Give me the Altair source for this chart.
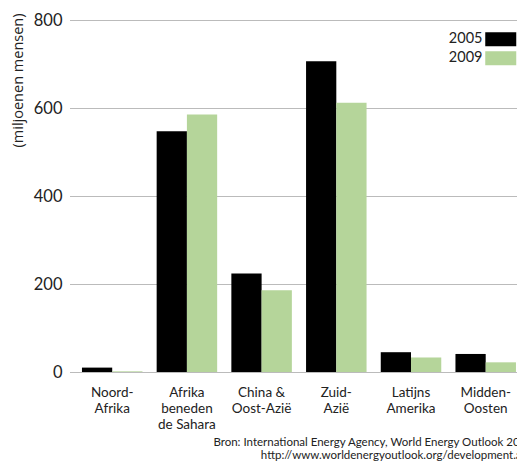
import altair as alt
import pandas as pd

categories = ["Noord-\nAfrika", "Afrika\nbeneden\nde Sahara", "China &\nOost-Azië",
              "Zuid-\nAzië", "Latijns\nAmerika", "Midden-\nOosten"]
years = ["2005", "2009"]
v2005 = [10, 547, 224, 706, 45, 41]
v2009 = [1.5, 585, 186, 612, 33, 22]
colors = ["#000000", "#b5d59a"]
y_ticks = [0, 200, 400, 600, 800]
source_lines = ["Bron:  International Energy Agency, World Energy Outlook 2009",
                "http://www.worldenergyoutlook.org/development.asp"]

rows = []
for c, a, b in zip(categories, v2005, v2009):
    rows.append({"regio": c, "jaar": years[0], "waarde": a})
    rows.append({"regio": c, "jaar": years[1], "waarde": b})
df = pd.DataFrame(rows)

FONT = "Lato"

chart = alt.Chart(df).mark_bar().encode(
    x=alt.X("regio:N", sort=categories,
            scale=alt.Scale(paddingInner=0.19, paddingOuter=0.087, align=0.92),
            axis=alt.Axis(title=None, labelAngle=0, domain=False, ticks=False,
                          labelExpr="split(datum.label, '\\n')",
                          labelFontSize=13.5, labelColor="#222222", labelFont=FONT,
                          labelPadding=13, labelLineHeight=16, labelBaseline="top")),
    xOffset=alt.XOffset("jaar:N", sort=years, scale=alt.Scale(paddingInner=0, paddingOuter=0)),
    y=alt.Y("waarde:Q", scale=alt.Scale(domain=[0, 800], nice=False),
            axis=alt.Axis(values=y_ticks, title="(miljoenen mensen)", domain=False, ticks=False,
                          grid=True, gridDash=[1, 1], gridColor="#777777", gridWidth=1,
                          labelFontSize=16.5, labelColor="#222222", labelFont=FONT, labelPadding=8,
                          titleFont="Open Sans", titleFontSize=14.5, titleFontWeight="normal",
                          titleColor="#222222", titleAngle=270, titleAlign="right",
                          titleBaseline="middle", titleX=-52, titleY=-7)),
    color=alt.Color("jaar:N", sort=years,
                    scale=alt.Scale(domain=years, range=colors),
                    legend=alt.Legend(title=None, orient="none", legendX=398, legendY=12,
                                      symbolType="M5,-3.5H20.5V3.5H5Z", symbolSize=16,
                                      symbolStrokeWidth=0, labelAlign="right", labelOffset=0,
                                      labelFont=FONT, labelFontSize=14.5, labelColor="#222222",
                                      rowPadding=3, padding=0)),
).properties(
    width=447, height=352,
    title=alt.TitleParams(text=source_lines, orient="bottom", anchor="end", align="right",
                          dx=16, offset=6, font=FONT, fontSize=11.5, fontWeight="normal",
                          color="#222222", lineHeight=13, frame="group"),
    autosize=alt.AutoSizeParams(type="none"),
    padding={"left": 62, "top": 12, "right": 0, "bottom": 90},
).configure_view(stroke=None)

chart.save("out.html", embed_options={"renderer": "svg", "actions": False})
